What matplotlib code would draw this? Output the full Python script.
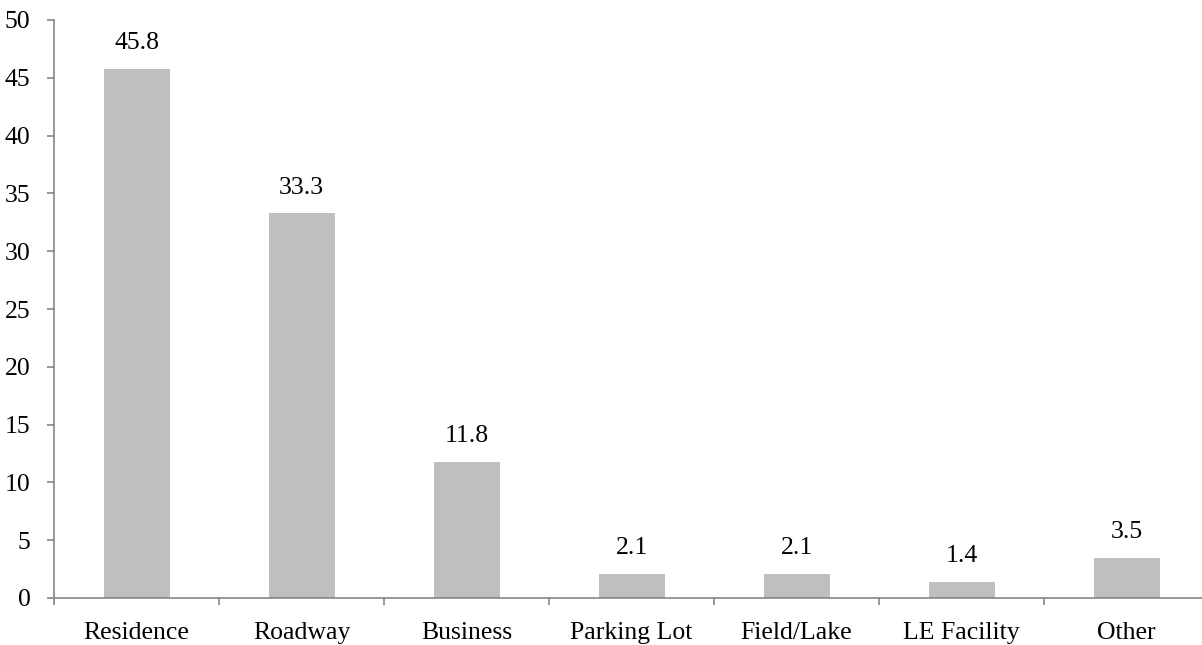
import matplotlib
matplotlib.use("Agg")
import matplotlib.pyplot as plt
from matplotlib.ticker import FixedLocator

categories = ["Residence", "Roadway", "Business", "Parking Lot", "Field/Lake", "LE Facility", "Other"]
values = [45.8, 33.3, 11.8, 2.1, 2.1, 1.4, 3.5]

plt.rcParams['font.family'] = ['Liberation Serif', 'DejaVu Serif']
fs = 18.5

fig = plt.figure(figsize=(12.02, 6.45), dpi=100)
ax = fig.add_axes([54 / 1202, 47 / 645, 1148 / 1202, 578 / 645])

x = list(range(len(categories)))
ax.bar(x, values, width=0.4, color="#bfbfbf")
for xi, v in zip(x, values):
    ax.text(xi, v + 1.25, f"{v:.1f}", ha="center", va="bottom", fontsize=fs)

ax.set_ylim(0, 50)
ax.set_xlim(-0.5, 6.457)
ax.set_yticks(range(0, 51, 5))
ax.set_xticks(x)
ax.set_xticklabels(categories, fontsize=fs)
ax.tick_params(axis="x", length=0, pad=17)
ax.xaxis.set_minor_locator(FixedLocator([i - 0.5 for i in range(len(categories) + 1)]))
ax.tick_params(axis="x", which="minor", length=5, color="#868686", width=1.2)
ax.tick_params(axis="y", labelsize=fs, length=5, color="#868686", width=1.2, pad=12)

for side in ["top", "right"]:
    ax.spines[side].set_visible(False)
for side in ["left", "bottom"]:
    ax.spines[side].set_color("#868686")
    ax.spines[side].set_linewidth(1.2)

fig.savefig("out.png", dpi=100)
